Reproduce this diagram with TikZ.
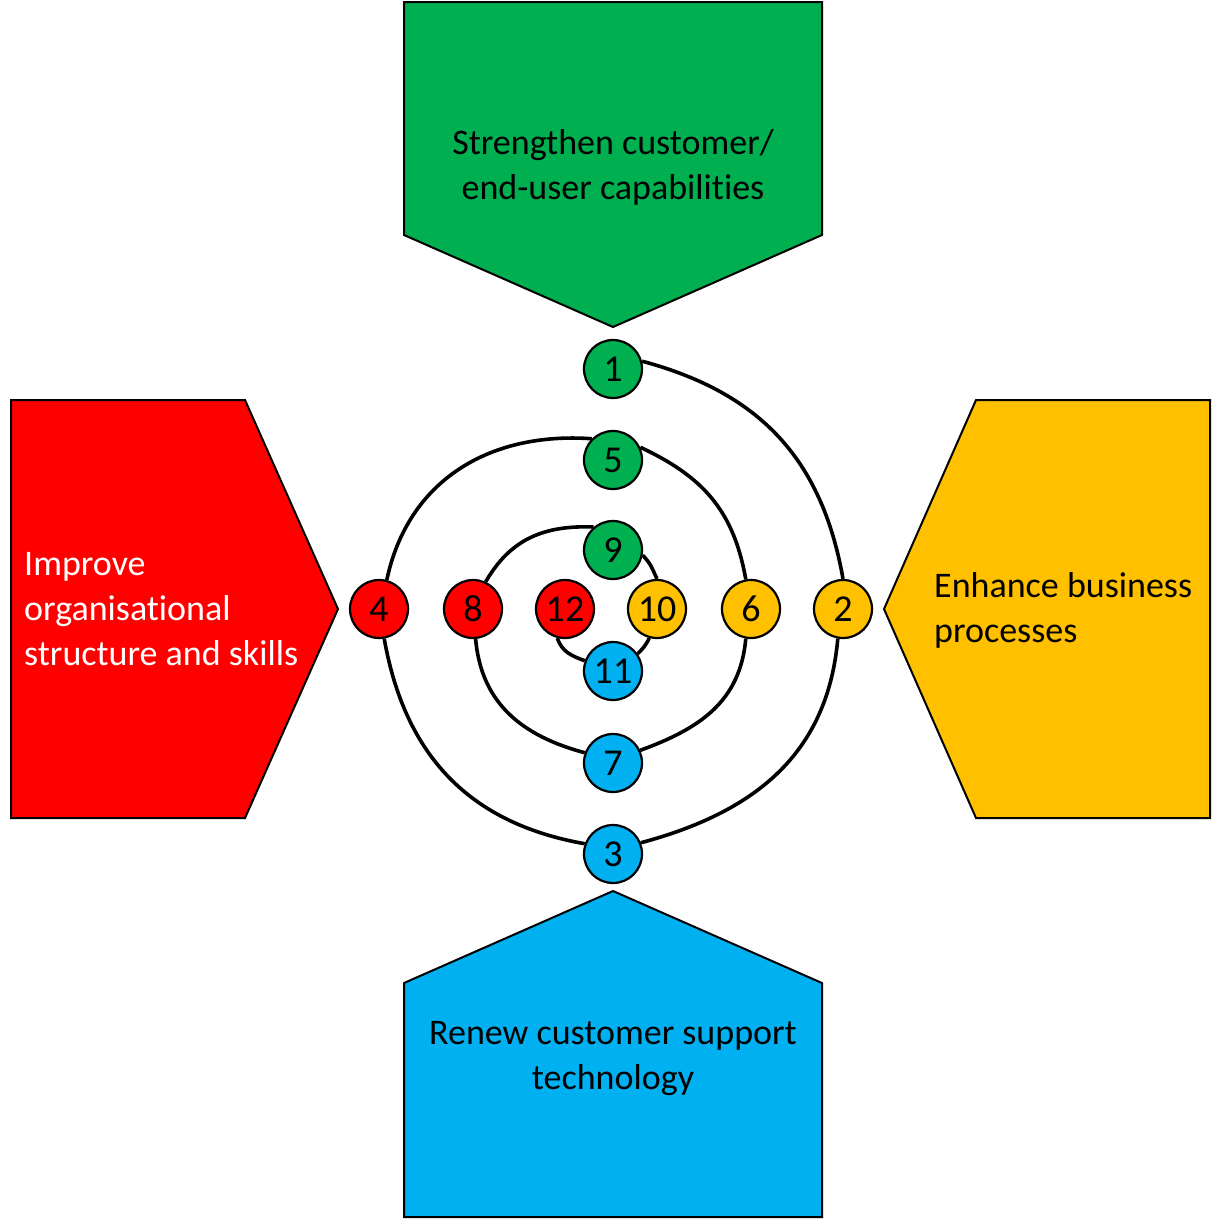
\documentclass[tikz,border=0pt]{standalone}
\usepackage{fontspec}
\setmainfont{Carlito}[Ligatures={NoCommon}]
\usetikzlibrary{backgrounds}
\definecolor{cgreen}{HTML}{00B050}
\definecolor{cred}{HTML}{FF0000}
\definecolor{cyellow}{HTML}{FFC000}
\definecolor{cblue}{HTML}{00B0F0}
\begin{document}
\begin{tikzpicture}[x=1pt,y=1pt,
  num/.style={circle,draw=black,line width=2.2pt,minimum size=58pt,inner sep=0pt,font=\fontsize{38}{44}\selectfont},
  arm/.style={draw=black,line width=2pt,line join=miter},
  lbl/.style={font=\fontsize{36}{45}\selectfont,inner sep=0pt},
  spiral/.style={draw=black,line width=3.6pt,looseness=1.05}]
\useasboundingbox (0,0) rectangle (1225,-1219);

% arms
\draw[arm,fill=cgreen] (404,-2) -- (822,-2) -- (822,-235) -- (613,-327) -- (404,-235) -- cycle;
\draw[arm,fill=cred] (11,-400) -- (245,-400) -- (338,-609) -- (245,-818) -- (11,-818) -- cycle;
\draw[arm,fill=cyellow] (1210,-400) -- (976,-400) -- (884,-609) -- (976,-818) -- (1210,-818) -- cycle;
\draw[arm,fill=cblue] (404,-1217) -- (404,-983) -- (613,-891) -- (822,-983) -- (822,-1217) -- cycle;

% labels
\node[lbl,align=center] (tgreen) at (613,-167) {Strengthen customer/\\end-user capabilities};
\node[lbl,align=left,anchor=west,text=white] (tred) at (24,-609) {Improve\\organisational\\structure and skills};
\node[lbl,align=left,anchor=west] (tyellow) at (934,-610) {Enhance business\\processes};
\node[lbl,align=center] (tblue) at (613,-1059) {Renew customer support\\technology};

% numbered circles
\node[num,fill=cgreen]  (n1)  at (613,-369) {1};
\node[num,fill=cyellow] (n2)  at (843,-609) {2};
\node[num,fill=cblue]   (n3)  at (613,-854) {3};
\node[num,fill=cred]    (n4)  at (379,-609) {4};
\node[num,fill=cgreen]  (n5)  at (613,-460) {5};
\node[num,fill=cyellow] (n6)  at (751,-609) {6};
\node[num,fill=cblue]   (n7)  at (613,-763) {7};
\node[num,fill=cred]    (n8)  at (473,-609) {8};
\node[num,fill=cgreen]  (n9)  at (613,-550) {9};
\node[num,fill=cyellow] (n10) at (657,-609) {10};
\node[num,fill=cblue]   (n11) at (613,-671) {11};
\node[num,fill=cred]    (n12) at (565,-609) {12};

% spiral
\begin{pgfonlayer}{background}
\draw[spiral] (n1.15)   to[out=-15,in=100]  (n2.north);
\draw[spiral] (n2.-100) to[out=-95,in=15]   (n3.22);
\draw[spiral] (n3.160)  to[out=170,in=-80]  (n4.-80);
\draw[spiral] (n4.75)   to[out=78,in=176]   (n5.135);
\draw[spiral] (n5.25)   to[out=-25,in=100]  (n6.100);
\draw[spiral] (n6.-100) to[out=-95,in=20]   (n7.25);
\draw[spiral] (n7.160)  to[out=165,in=-85]  (n8.-85);
\draw[spiral] (n8.65)   to[out=60,in=178]   (n9.130);
\draw[spiral] (n9.-10)  to[out=-45,in=115]  (n10.north);
\draw[spiral] (n10.-105) to[out=-115,in=45] (n11.35);
\draw[spiral] (n11.160) to[out=160,in=-70]  (n12.-105);
\end{pgfonlayer}
\end{tikzpicture}
\end{document}
